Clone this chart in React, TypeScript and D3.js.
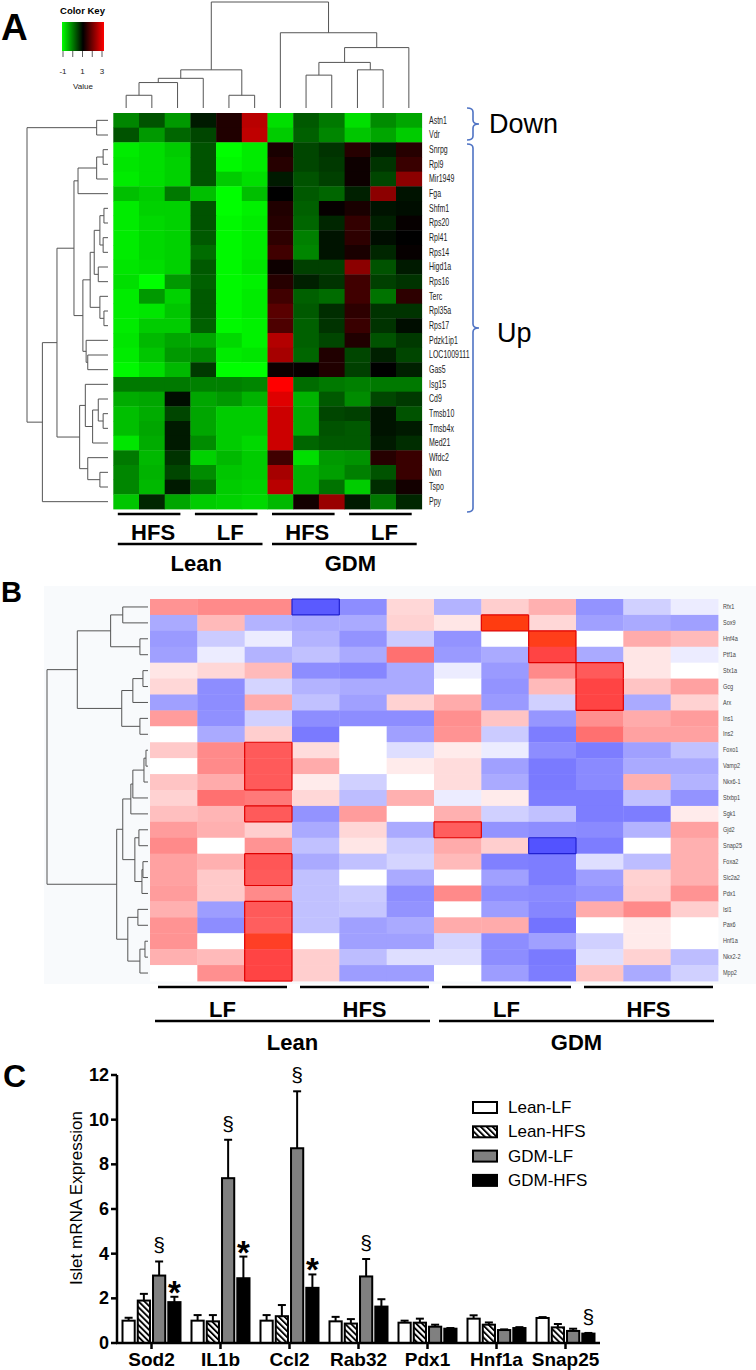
import React from "react";
import * as d3 from "d3";

type Tree = number | [number, Tree, Tree];

const FONT = "'Liberation Sans', Arial, Helvetica, sans-serif";

// ---------- Panel A: microarray heatmap (green-black-red) ----------
const genesA = [
  "Astn1", "Vdr", "Snrpg", "Rpl9", "Mir1949", "Fga", "Shfm1", "Rps20", "Rpl41",
  "Rps14", "Higd1a", "Rps16", "Terc", "Rpl35a", "Rps17", "Pdzk1ip1", "LOC1009111",
  "Gas5", "Isg15", "Cd9", "Tmsb10", "Tmsb4x", "Med21", "Wfdc2", "Nxn", "Tspo", "Ppy",
];
const groupsA1 = ["HFS", "LF", "HFS", "LF"];
const groupsA2 = ["Lean", "GDM"];
const keyTicks = [-1, 1, 3];
const valuesA: number[][] = [
  [-0.05, 0.35, -0.2, 0.8, 1.25, 2.45, -0.75, 0.3, 0.05, -0.75, -0.1, -0.3],
  [0.35, -0.2, 0.2, 0.45, 1.25, 2.5, -0.6, 0.25, -0.05, -0.55, -0.3, -0.6],
  [-0.85, -0.75, -0.6, 0.35, -1, -0.85, 1.2, 0.45, 0.6, 1.3, 0.8, 1.3],
  [-0.8, -0.75, -0.65, 0.35, -0.95, -0.85, 1.3, 0.45, 0.55, 1.1, 0.6, 1.45],
  [-0.85, -0.75, -0.65, 0.35, -0.6, -0.75, 0.8, 0.35, 0.5, 1.1, 0.45, 2.1],
  [-0.5, -0.6, 0.05, -0.5, -1, -0.5, 1, 0.3, 0.2, 0.75, 2.1, 0.85],
  [-0.85, -0.65, -0.65, 0.35, -1, -0.9, 1.25, 0.25, 1.05, 1.2, 0.85, 0.9],
  [-0.85, -0.7, -0.65, 0.35, -0.95, -0.85, 1.3, 0.2, 0.7, 1.4, 0.75, 1.05],
  [-0.85, -0.7, -0.65, 0.3, -0.95, -0.85, 1.35, 0.0, 0.85, 1.35, 0.9, 1.0],
  [-0.85, -0.7, -0.65, 0.15, -0.95, -0.85, 1.5, -0.05, 0.85, 1.2, 0.7, 1.05],
  [-0.8, -0.75, -0.65, 0.3, -0.95, -0.8, 1.1, 0.5, 0.5, 2.1, 0.35, 0.8],
  [-0.75, -1, -0.2, 0.25, -0.95, -0.9, 1.3, 0.75, 0.6, 1.5, 0.5, 0.6],
  [-0.85, -0.2, -0.65, 0.3, -0.95, -0.85, 1.5, 0.25, 0.15, 1.5, 0.1, 1.35],
  [-0.85, -0.8, -0.55, 0.3, -0.95, -0.85, 1.7, 0.3, 0.65, 1.35, 0.6, 0.6],
  [-0.85, -0.6, -0.6, 0.25, -0.95, -0.9, 1.6, 0.25, 0.6, 1.45, 0.6, 0.9],
  [-0.8, -0.45, -0.3, -0.3, -0.7, -0.9, 2.4, 0.25, 0.45, 1.25, 0.35, 0.55],
  [-0.85, -0.55, -0.2, -0.05, -0.85, -0.8, 2.3, 0.2, 1.25, 0.45, 0.75, 0.45],
  [-0.95, -0.75, -0.45, 0.55, -1, -1, 1.1, 1.05, 1.25, 0.5, 1.0, 0.75],
  [0.05, 0.05, 0.05, 0.0, 0.0, -0.05, 3.0, 0.15, 0.05, 0.0, 0.05, 0.05],
  [-0.35, -0.3, 0.9, -0.3, -0.2, -0.4, 2.75, -0.4, 0.3, -0.1, 0.45, 0.55],
  [-0.5, -0.35, 0.45, -0.3, -0.6, -0.6, 2.6, -0.35, 0.45, 0.5, 0.85, 0.35],
  [-0.5, -0.3, 0.8, -0.3, -0.6, -0.6, 2.6, -0.35, 0.35, 0.3, 0.85, 0.8],
  [-0.8, -0.35, 0.8, -0.1, -0.6, -0.7, 2.6, 0.2, 0.3, 0.3, 0.8, 0.65],
  [0.05, -0.45, 0.6, -0.65, -0.45, -0.6, 1.5, -0.75, -0.2, -0.15, 1.3, 1.45],
  [-0.05, -0.4, 0.45, -0.1, -0.55, -0.6, 2.3, -0.4, -0.25, 0.0, 0.35, 1.45],
  [-0.05, -0.45, 0.8, 0.15, -0.6, -0.65, 2.45, -0.4, 0.1, -0.6, 0.65, 1.15],
  [-0.55, 0.7, -0.3, -0.6, -0.65, -0.7, -0.45, 1.15, 2.2, 0.8, 0.05, 0.7],
];
// dendrograms: [merge height, left, right], leaves are row/column indices
const rowTreeA: Tree = [1.0, [0.14, 0, 1], [0.81, [0.63,
  [0.42, [0.37, [0.14, [0.06, 2, 3], 4], 5],
    [0.31, [0.22, [0.17, [0.1, [0.05, 6, 7], [0.06, 8, 9]], [0.12, 10, 11]], [0.1, 12, [0.05, 13, 14]]],
      [0.27, 15, [0.25, 16, 17]]]],
  [0.35, [0.28, 18, [0.19, [0.12, 19, [0.06, 20, 21]], 22]], [0.25, 23, [0.1, 24, 25]]]], 26]];
const colTreeA: Tree = [1.0,
  [0.36, [0.28, [0.24, [0.12, 0, 1], 2], 3], [0.12, 4, 5]],
  [0.71, 6, [0.57, [0.43, [0.31, 7, 8], [0.36, 9, 10]], 11]]];

// ---------- Panel B: qPCR heatmap (blue-white-red) ----------
const genesB = [
  "Rfx1", "Sox9", "Hnf4a", "Ptf1a", "Stx1a", "Gcg", "Arx", "Ins1", "Ins2", "Foxo1",
  "Vamp2", "Nkx6-1", "Stxbp1", "Sgk1", "Gjd2", "Snap25", "Foxa2", "Slc2a2", "Pdx1",
  "Isl1", "Pax6", "Hnf1a", "Nkx2-2", "Mpp2",
];
const groupsB1 = ["LF", "HFS", "LF", "HFS"];
const groupsB2 = ["Lean", "GDM"];
const valuesB: number[][] = [
  [1.1, 1.2, 1.2, -2.1, -1.3, 0.4, -0.8, 0.5, 0.8, -1.2, -0.5, -0.2],
  [-0.9, 0.7, -0.8, -0.9, -0.9, 0.45, 0.25, 2.5, 0.4, -1.0, -0.9, -1.0],
  [-1.1, -0.55, -0.2, -0.8, -1.2, -0.55, -1.2, 0, 2.4, 0, 0.85, 0.7],
  [-1.0, -0.2, -0.8, -0.65, -0.9, 1.5, -1.1, -0.9, 2.0, -0.9, 0.25, -0.2],
  [0.25, 0.4, 0.7, -1.3, -1.4, -0.9, -0.2, -1.1, 1.2, 1.75, 0.25, 0],
  [0.4, -1.3, -0.45, -0.8, -0.9, -0.9, 0, -1.2, 0.7, 2.0, 0.6, 0.95],
  [-1.0, -1.3, 0.85, -0.65, -1.0, 0.45, 0.85, -1.1, -0.5, 2.0, -0.9, 0.45],
  [1.0, -1.25, -0.5, -1.3, -1.3, -1.3, 1.15, 0.6, -1.15, 1.15, 0.85, 1.0],
  [0, -0.9, 0.5, -1.6, 0, -1.0, 1.1, -0.55, -1.55, 1.5, 0.95, 0.95],
  [0.55, 1.2, 1.75, 0.35, 0, -0.35, 0.2, -0.2, -1.3, -1.55, -1.0, -0.65],
  [0, 1.2, 1.75, 0.85, 0, 0.2, 0.35, -1.0, -1.6, -1.35, -0.9, -0.9],
  [0.6, 0.85, 1.75, 0.2, -0.5, 0, 0.35, -0.9, -1.6, -1.35, 0.8, -0.8],
  [0.45, 1.5, 1.4, 0.4, -0.7, 0.8, -0.2, 0.2, -1.55, -1.55, -0.65, -1.2],
  [0.65, 0.75, 1.75, -1.2, 1.0, 0, 0.8, -0.5, -0.65, -1.55, -1.55, 0.2],
  [1.0, 0.8, 0.5, -0.9, 0.4, -0.9, 1.7, -1.2, -1.3, -1.35, -0.8, 0.95],
  [1.2, 0, 1.1, -0.65, 0.25, -0.55, 0.85, 0.5, -2.2, -1.55, 0, 0.8],
  [0.95, 0.8, 1.8, -0.9, -0.65, -0.45, 0.7, -1.5, -1.55, -0.35, -0.7, 0.8],
  [0.95, 0.55, 1.75, -0.65, 0, -0.9, 0, -1.0, -1.55, -1.05, 0.45, 0.8],
  [1.0, 0.55, 1.2, -0.65, -0.55, -1.3, 1.2, -1.3, -1.35, -1.2, 0.5, 1.1],
  [0.8, -1.05, 1.75, -0.65, -0.6, -1.2, 0, -1.05, -1.4, 0.85, 1.2, 0.5],
  [1.1, -1.3, 1.7, -0.65, -1.0, -0.9, 0.85, 0.85, -1.7, 0, 0.2, 0],
  [1.1, 0, 2.3, 0, -1.0, -1.0, -0.45, -1.3, -1.0, -0.5, 0.2, 0],
  [0.8, 0.7, 2.0, 0.5, -0.7, -0.35, -0.35, -1.3, -1.6, -0.35, 0.45, -0.7],
  [0, 1.15, 2.0, 0.5, -1.05, -1.05, 0, -1.05, -1.55, 0.6, -0.9, -0.5],
];
const rowTreeB: Tree = [1.0,
  [0.7, [0.37, [0.25, 0, 1], [0.08, 2, 3]], [0.26, [0.15, [0.05, 4, 5], 6], [0.08, 7, 8]]],
  [0.31,
    [0.25, [0.17, [0.15, [0.04, [0.02, 9, 10], 11], 12], 13], [0.13, [0.09, 14, 15], [0.06, [0.05, 16, 17], 18]]],
    [0.2, [0.1, 19, 20], [0.08, [0.03, 21, 22], 23]]]];

// ---------- Panel C: bar chart ----------
const genesC = ["Sod2", "IL1b", "Ccl2", "Rab32", "Pdx1", "Hnf1a", "Snap25"];
const seriesC = ["Lean-LF", "Lean-HFS", "GDM-LF", "GDM-HFS"];
const leanLF = [1.0, 1.0, 1.0, 0.97, 0.91, 1.09, 1.12];
const leanLFErr = [0.13, 0.25, 0.25, 0.2, 0.09, 0.15, 0.04];
const leanHFS = [1.9, 0.97, 1.2, 0.87, 0.91, 0.82, 0.7];
const leanHFSErr = [0.3, 0.28, 0.5, 0.2, 0.18, 0.1, 0.15];
const gdmLF = [3.02, 7.38, 8.72, 2.98, 0.73, 0.58, 0.54];
const gdmLFErr = [0.63, 1.72, 2.55, 0.78, 0.09, 0.03, 0.1];
const gdmHFS = [1.83, 2.9, 2.47, 1.63, 0.64, 0.67, 0.42];
const gdmHFSErr = [0.24, 0.97, 0.6, 0.33, 0.03, 0.04, 0.03];
const sectionMarks: [string, string][] = [
  ["Sod2", "GDM-LF"], ["IL1b", "GDM-LF"], ["Ccl2", "GDM-LF"], ["Rab32", "GDM-LF"], ["Snap25", "GDM-HFS"],
];
const starMarks: [string, string][] = [["Sod2", "GDM-HFS"], ["IL1b", "GDM-HFS"], ["Ccl2", "GDM-HFS"]];
const yTicksC = [0, 2, 4, 6, 8, 10, 12];

// lay out a dendrogram; returns segments as [h1, p1, h2, p2]
function layoutTree(node: Tree, leaf: (i: number) => number, hpos: (h: number) => number) {
  if (typeof node === "number") return { p: leaf(node), hv: hpos(0), segs: [] as number[][] };
  const [h, a, b] = node;
  const A = layoutTree(a, leaf, hpos);
  const B = layoutTree(b, leaf, hpos);
  const hv = hpos(h);
  const segs = [...A.segs, ...B.segs, [A.hv, A.p, hv, A.p], [B.hv, B.p, hv, B.p], [hv, A.p, hv, B.p]];
  return { p: (A.p + B.p) / 2, hv, segs };
}

const brace = (x: number, y0: number, y1: number, w: number) => {
  const ym = (y0 + y1) / 2, r = 4, xm = x + w / 2;
  return `M${x},${y0} Q${xm},${y0} ${xm},${y0 + r} L${xm},${ym - r} Q${xm},${ym} ${x + w},${ym} ` +
    `Q${xm},${ym} ${xm},${ym + r} L${xm},${y1 - r} Q${xm},${y1} ${x},${y1}`;
};

const PanelA = () => {
  const cols = d3.range(12);
  const x = d3.scaleBand<number>().domain(cols).range([113.3, 421.7]);
  const y = d3.scaleBand<number>().domain(d3.range(genesA.length)).range([113, 509]);
  const color = d3.scaleLinear<string>().domain([-1, 1, 3]).range(["#00ff00", "#000000", "#ff0000"]).clamp(true);
  const bw = x.bandwidth(), bh = y.bandwidth();
  const rowDen = layoutTree(rowTreeA, (i) => y(i)! + bh / 2, d3.scaleLinear().domain([0, 1]).range([108, 27]));
  const colDen = layoutTree(colTreeA, (i) => x(i)! + bw / 2, d3.scaleLinear().domain([0, 1]).range([108, 2]));
  const keyX = d3.scaleLinear().domain([-1, 3]).range([63, 102]);
  const blue = "#4f73c4";
  return (
    <g>
      <text x={1} y={40} fontSize={37} fontWeight="bold">A</text>
      <defs>
        <linearGradient id="keyGrad" x1="0" x2="1" y1="0" y2="0">
          <stop offset="0%" stopColor="#00ff00" />
          <stop offset="50%" stopColor="#000000" />
          <stop offset="100%" stopColor="#ff0000" />
        </linearGradient>
      </defs>
      <text x={82.5} y={14} fontSize={9.5} fontWeight="bold" textAnchor="middle">Color Key</text>
      <rect x={62} y={22} width={42} height={29} fill="url(#keyGrad)" />
      {d3.range(-1, 3.01, 1).map((t) => (
        <line key={t} x1={keyX(t)} x2={keyX(t)} y1={51} y2={57} stroke="#333" strokeWidth={0.8} />
      ))}
      {keyTicks.map((t) => (
        <text key={t} x={keyX(t)} y={74} fontSize={8} textAnchor="middle" fill="#222">{t}</text>
      ))}
      <text x={83} y={89} fontSize={8} textAnchor="middle" fill="#222">Value</text>

      {valuesA.map((row, i) => row.map((v, j) => (
        <rect key={`${i}-${j}`} x={x(j)} y={y(i)} width={bw + 0.4} height={bh + 0.4} fill={color(v)} />
      )))}
      <g stroke="#555" strokeWidth={1} fill="none">
        {rowDen.segs.map((s, k) => <line key={k} x1={s[0]} y1={s[1]} x2={s[2]} y2={s[3]} />)}
        {colDen.segs.map((s, k) => <line key={k} x1={s[1]} y1={s[0]} x2={s[3]} y2={s[2]} />)}
      </g>
      {genesA.map((g, i) => (
        <text key={g} transform={`translate(429,${y(i)! + bh / 2}) scale(0.7,1)`} fontSize={10}
          dominantBaseline="central" fill="#222">{g}</text>
      ))}
      <path d={brace(467, 108, 140, 12)} fill="none" stroke={blue} strokeWidth={1.6} />
      <path d={brace(467, 144, 512, 12)} fill="none" stroke={blue} strokeWidth={1.6} />
      <text x={489} y={133} fontSize={27}>Down</text>
      <text x={497} y={342} fontSize={27}>Up</text>

      {groupsA1.map((g, k) => {
        const x1 = x(k * 3)! + 4.5, x2 = x(k * 3 + 2)! + bw - 10;
        return (
          <g key={k}>
            <line x1={x1} x2={x2} y1={514} y2={514} stroke="#000" strokeWidth={2.5} />
            <text x={(x1 + x2) / 2 + 4} y={540} fontSize={22} fontWeight="bold" textAnchor="middle">{g}</text>
          </g>
        );
      })}
      {groupsA2.map((g, k) => {
        const x1 = x(k * 6)! + 4.5, x2 = x(k * 6 + 5)! + bw - 5;
        return (
          <g key={k}>
            <line x1={x1} x2={x2} y1={544} y2={544} stroke="#000" strokeWidth={2.5} />
            <text x={(x1 + x2) / 2 + 6} y={571} fontSize={22} fontWeight="bold" textAnchor="middle">{g}</text>
          </g>
        );
      })}
    </g>
  );
};

const PanelB = () => {
  const x = d3.scaleBand<number>().domain(d3.range(12)).range([150, 718]);
  const y = d3.scaleBand<number>().domain(d3.range(genesB.length)).range([599, 981]);
  const color = d3.scaleLinear<string>()
    .domain([-2.5, -1, 0, 1, 2, 2.5])
    .range(["#4040ff", "#a0a0ff", "#ffffff", "#ff9c9c", "#ff4444", "#ff3c10"]).clamp(true);
  const bw = x.bandwidth(), bh = y.bandwidth();
  const den = layoutTree(rowTreeB, (i) => y(i)! + bh / 2, d3.scaleLinear().domain([0, 1]).range([148, 47]));
  const flag = (i: number, j: number) => {
    const v = valuesB[i]?.[j];
    if (v === undefined) return "";
    return v >= 1.7 ? "r" : v <= -1.9 ? "b" : "";
  };
  const edges: { k: string; x1: number; y1: number; x2: number; y2: number; c: string }[] = [];
  valuesB.forEach((row, i) => row.forEach((_, j) => {
    const f = flag(i, j);
    if (!f) return;
    const c = f === "r" ? "#e00000" : "#2020d0";
    const x0 = x(j)!, y0 = y(i)!;
    if (flag(i - 1, j) !== f) edges.push({ k: `${i}-${j}t`, x1: x0, y1: y0, x2: x0 + bw, y2: y0, c });
    if (flag(i + 1, j) !== f) edges.push({ k: `${i}-${j}b`, x1: x0, y1: y0 + bh, x2: x0 + bw, y2: y0 + bh, c });
    if (flag(i, j - 1) !== f) edges.push({ k: `${i}-${j}l`, x1: x0, y1: y0, x2: x0, y2: y0 + bh, c });
    if (flag(i, j + 1) !== f) edges.push({ k: `${i}-${j}r`, x1: x0 + bw, y1: y0, x2: x0 + bw, y2: y0 + bh, c });
  }));
  return (
    <g>
      <rect x={44} y={586} width={712} height={398} fill="#f8fafc" />
      <text x={1} y={602} fontSize={29} fontWeight="bold">B</text>
      {valuesB.map((row, i) => row.map((v, j) => (
        <rect key={`${i}-${j}`} x={x(j)} y={y(i)} width={bw + 0.4} height={bh + 0.4} fill={color(v)} />
      )))}
      {edges.map((e) => (
        <line key={e.k} x1={e.x1} y1={e.y1} x2={e.x2} y2={e.y2} stroke={e.c} strokeWidth={1.2} />
      ))}
      <g stroke="#555" strokeWidth={1} fill="none">
        {den.segs.map((s, k) => <line key={k} x1={s[0]} y1={s[1]} x2={s[2]} y2={s[3]} />)}
      </g>
      {genesB.map((g, i) => (
        <text key={g} transform={`translate(723,${y(i)! + bh / 2}) scale(0.85,1)`} fontSize={6.5}
          dominantBaseline="central" fill="#444">{g}</text>
      ))}
      {groupsB1.map((g, k) => {
        const x1 = x(k * 3)! + 8, x2 = x(k * 3 + 2)! + bw - 5;
        return (
          <g key={k}>
            <line x1={x1} x2={x2} y1={987} y2={987} stroke="#000" strokeWidth={2.5} />
            <text x={(x1 + x2) / 2} y={1017} fontSize={22} fontWeight="bold" textAnchor="middle">{g}</text>
          </g>
        );
      })}
      {groupsB2.map((g, k) => {
        const x1 = x(k * 6)! + 5, x2 = x(k * 6 + 5)! + bw - 4;
        return (
          <g key={k}>
            <line x1={x1} x2={x2} y1={1021} y2={1021} stroke="#000" strokeWidth={2.5} />
            <text x={(x1 + x2) / 2} y={1050} fontSize={22} fontWeight="bold" textAnchor="middle">{g}</text>
          </g>
        );
      })}
    </g>
  );
};

const PanelC = () => {
  const x = d3.scaleBand<string>().domain(genesC).range([117, 600]);
  const xi = d3.scaleBand<string>().domain(seriesC).range([5.5, 63.5]).paddingInner(0.2);
  const y = d3.scaleLinear().domain([0, 12]).range([1343, 1075]);
  const series = [
    { name: "Lean-LF", mean: leanLF, err: leanLFErr, fill: "#ffffff" },
    { name: "Lean-HFS", mean: leanHFS, err: leanHFSErr, fill: "url(#hatch)" },
    { name: "GDM-LF", mean: gdmLF, err: gdmLFErr, fill: "#808080" },
    { name: "GDM-HFS", mean: gdmHFS, err: gdmHFSErr, fill: "#000000" },
  ];
  const bw = xi.bandwidth();
  const cx = (g: string, s: string) => x(g)! + xi(s)! + bw / 2;
  const top = (g: string, s: string) => {
    const d = series.find((d) => d.name === s)!;
    const k = genesC.indexOf(g);
    return y(d.mean[k] + d.err[k]);
  };
  return (
    <g>
      <defs>
        <pattern id="hatch" patternUnits="userSpaceOnUse" width={4.2} height={4.2} patternTransform="rotate(-45)">
          <rect width={4.2} height={4.2} fill="#fff" />
          <rect width={1.9} height={4.2} fill="#000" />
        </pattern>
      </defs>
      <text x={3} y={1087} fontSize={32} fontWeight="bold">C</text>
      {series.map((s) => genesC.map((g, k) => {
        const x0 = x(g)! + xi(s.name)!;
        const yt = y(s.mean[k]);
        const ye = y(s.mean[k] + s.err[k]);
        const c = x0 + bw / 2;
        return (
          <g key={`${s.name}-${g}`}>
            <line x1={c} x2={c} y1={yt} y2={ye} stroke="#000" strokeWidth={2} />
            <line x1={c - 4} x2={c + 4} y1={ye} y2={ye} stroke="#000" strokeWidth={2} />
            <rect x={x0} y={yt} width={bw} height={y(0) - yt} fill={s.fill} stroke="#000" strokeWidth={2} />
          </g>
        );
      }))}
      {sectionMarks.map(([g, s]) => (
        <text key={`s-${g}`} x={cx(g, s)} y={top(g, s) - 9} fontSize={21} textAnchor="middle">§</text>
      ))}
      {starMarks.map(([g, s]) => (
        <text key={`a-${g}`} x={cx(g, s)} y={top(g, s) + 7} fontSize={33} fontWeight="bold" textAnchor="middle">*</text>
      ))}
      <line x1={117} x2={117} y1={y(12)} y2={y(0) + 1} stroke="#000" strokeWidth={2.5} />
      <line x1={116} x2={600} y1={y(0)} y2={y(0)} stroke="#000" strokeWidth={2.5} />
      {yTicksC.map((t) => (
        <g key={t}>
          <line x1={111} x2={117} y1={y(t)} y2={y(t)} stroke="#000" strokeWidth={2.5} />
          <text x={109} y={y(t)} fontSize={18} fontWeight="bold" textAnchor="end" dominantBaseline="central">{t}</text>
        </g>
      ))}
      {genesC.map((g) => {
        const c = x(g)! + x.bandwidth() / 2;
        return (
          <g key={g}>
            <line x1={c} x2={c} y1={y(0)} y2={y(0) + 6} stroke="#000" strokeWidth={2.5} />
            <text x={c} y={1366} fontSize={19} fontWeight="bold" textAnchor="middle">{g}</text>
          </g>
        );
      })}
      <text transform="translate(82,1198) rotate(-90)" fontSize={17} textAnchor="middle">Islet mRNA Expression</text>
      {series.map((s, i) => (
        <g key={s.name} transform={`translate(473,${1102 + i * 24.3})`}>
          <rect width={24} height={11} fill={s.fill} stroke="#000" strokeWidth={2} />
          <text x={35} y={5.5} fontSize={17} dominantBaseline="central">{s.name}</text>
        </g>
      ))}
    </g>
  );
};

export default function App() {
  return (
    <svg width={756} height={1370} style={{ position: "absolute", left: 0, top: 0, background: "#fff" }}
      fontFamily={FONT}>
      <rect width={756} height={1370} fill="#fff" />
      <PanelA />
      <PanelB />
      <PanelC />
    </svg>
  );
}
